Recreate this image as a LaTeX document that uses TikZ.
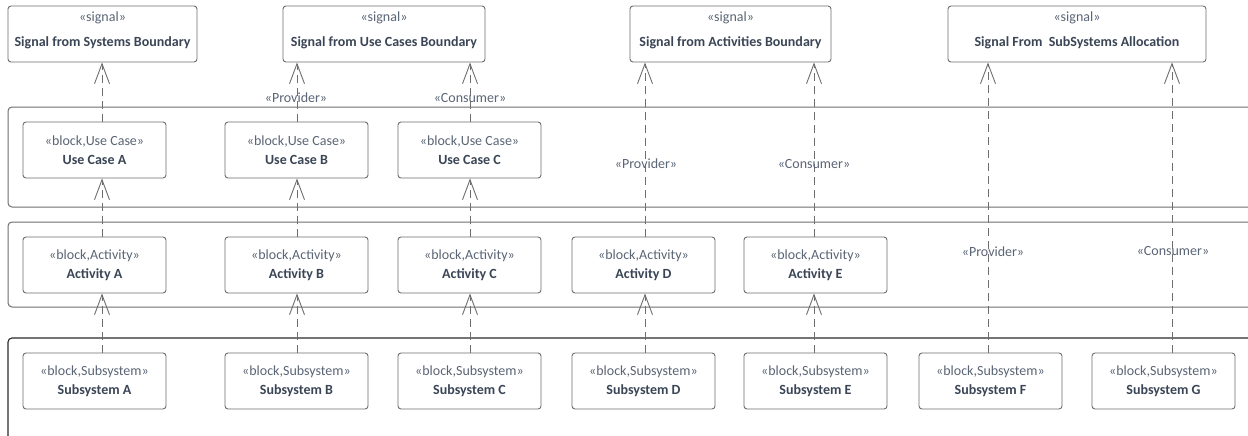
\documentclass[tikz,border=0pt]{standalone}
\usepackage{fontspec}
\setmainfont{Carlito}
\usetikzlibrary{arrows.meta}

\definecolor{edge}{HTML}{6E6E6E}
\definecolor{frame}{HTML}{2A2A2A}
\definecolor{stereo}{HTML}{5A6575}
\definecolor{title}{HTML}{3A4555}

\newcommand{\diagfont}{\fontsize{14}{19}\selectfont}

\tikzset{
  blk/.style={draw=edge, line width=0.9pt, rounded corners=3pt,
    minimum width=143pt, minimum height=56pt, inner sep=0pt,
    align=center, font=\diagfont, text=stereo},
  sig/.style={draw=edge, line width=0.9pt, rounded corners=3pt,
    minimum height=56pt, inner sep=0pt},
  sigst/.style={anchor=base, inner sep=0pt, font=\diagfont, text=stereo},
  signame/.style={anchor=base, inner sep=0pt, font=\diagfont\bfseries, text=title},
  band/.style={draw=edge, line width=1pt, rounded corners=4pt},
  lastband/.style={draw=frame, line width=1.1pt, rounded corners=4pt},
  dep/.style={draw=edge, line width=0.9pt, dash pattern=on 8pt off 5pt,
    -{Straight Barb[length=20pt,width=15pt,line width=0.9pt]}},
  role/.style={inner sep=0pt, font=\diagfont, text=stereo},
}

\newcommand{\blocktext}[2]{«block,#1»\\\textcolor{title}{\bfseries #2}}

\begin{document}
\begin{tikzpicture}[x=1pt, y=-1pt]
  \useasboundingbox[fill=white] (0,0) rectangle (1248,436);

  % layer bands
  \begin{scope}
    \clip (0,0) rectangle (1248,436);
    \draw[band] (8,107) rectangle (1262,207);
    \draw[band] (8,222) rectangle (1262,307);
    \draw[lastband] (8,338) rectangle (1262,450);
  \end{scope}

  % signals
  \node[sig, minimum width=189pt] (s1) at (102.5,34) {};
  \node[sig, minimum width=202pt] (s2) at (384,34) {};
  \node[sig, minimum width=201pt] (s3) at (730.5,34) {};
  \node[sig, minimum width=258pt] (s4) at (1077,34) {};
  \foreach \s/\t in {s1/Signal from Systems Boundary,
                     s2/Signal from Use Cases Boundary,
                     s3/Signal from Activities Boundary,
                     s4/Signal From\ \ SubSystems Allocation}{
    \node[sigst, yshift=-15.5pt] (\s st) at (\s.north) {«signal»};
    \node[signame, yshift=-40.5pt] (\s nm) at (\s.north) {\t};
  }

  % use cases
  \node[blk] (ucA) at (94.5,150) {\blocktext{Use Case}{Use Case A}};
  \node[blk] (ucB) at (296.5,150) {\blocktext{Use Case}{Use Case B}};
  \node[blk] (ucC) at (469.5,150) {\blocktext{Use Case}{Use Case C}};

  % activities
  \node[blk] (acA) at (94.5,265) {\blocktext{Activity}{Activity A}};
  \node[blk] (acB) at (296.5,265) {\blocktext{Activity}{Activity B}};
  \node[blk] (acC) at (469.5,265) {\blocktext{Activity}{Activity C}};
  \node[blk] (acD) at (643.5,265) {\blocktext{Activity}{Activity D}};
  \node[blk] (acE) at (815.5,265) {\blocktext{Activity}{Activity E}};

  % subsystems
  \node[blk] (ssA) at (94.5,381) {\blocktext{Subsystem}{Subsystem A}};
  \node[blk] (ssB) at (296.5,381) {\blocktext{Subsystem}{Subsystem B}};
  \node[blk] (ssC) at (469.5,381) {\blocktext{Subsystem}{Subsystem C}};
  \node[blk] (ssD) at (643.5,381) {\blocktext{Subsystem}{Subsystem D}};
  \node[blk] (ssE) at (815.5,381) {\blocktext{Subsystem}{Subsystem E}};
  \node[blk] (ssF) at (990.5,381) {\blocktext{Subsystem}{Subsystem F}};
  \node[blk] (ssG) at (1163.5,381) {\blocktext{Subsystem}{Subsystem G}};

  % connector columns
  \coordinate (cA) at (102,0);
  \coordinate (cB) at (297,0);
  \coordinate (cC) at (470,0);
  \coordinate (cD) at (645,0);
  \coordinate (cE) at (814,0);
  \coordinate (cF) at (988,0);
  \coordinate (cG) at (1172,0);

  % subsystem -> activity -> use case -> signal
  \draw[dep] (cA |- ssA.north) -- (cA |- acA.south);
  \draw[dep] (cA |- acA.north) -- (cA |- ucA.south);
  \draw[dep] (cA |- ucA.north) -- (cA |- s1.south);

  \draw[dep] (cB |- ssB.north) -- (cB |- acB.south);
  \draw[dep] (cB |- acB.north) -- (cB |- ucB.south);
  \draw[dep] (cB |- ucB.north) -- (cB |- s2.south);

  \draw[dep] (cC |- ssC.north) -- (cC |- acC.south);
  \draw[dep] (cC |- acC.north) -- (cC |- ucC.south);
  \draw[dep] (cC |- ucC.north) -- (cC |- s2.south);

  \draw[dep] (cD |- ssD.north) -- (cD |- acD.south);
  \draw[dep] (cD |- acD.north) -- (cD |- s3.south);

  \draw[dep] (cE |- ssE.north) -- (cE |- acE.south);
  \draw[dep] (cE |- acE.north) -- (cE |- s3.south);

  \draw[dep] (cF |- ssF.north) -- (cF |- s4.south);
  \draw[dep] (cG |- ssG.north) -- (cG |- s4.south);

  % roles
  \node[role] (rB) at (296,98) {«Provider»};
  \node[role] (rC) at (470,98) {«Consumer»};
  \node[role] (rD) at (646,164) {«Provider»};
  \node[role] (rE) at (814,164) {«Consumer»};
  \node[role] (rF) at (993,252) {«Provider»};
  \node[role] (rG) at (1173,251) {«Consumer»};
\end{tikzpicture}
\end{document}
